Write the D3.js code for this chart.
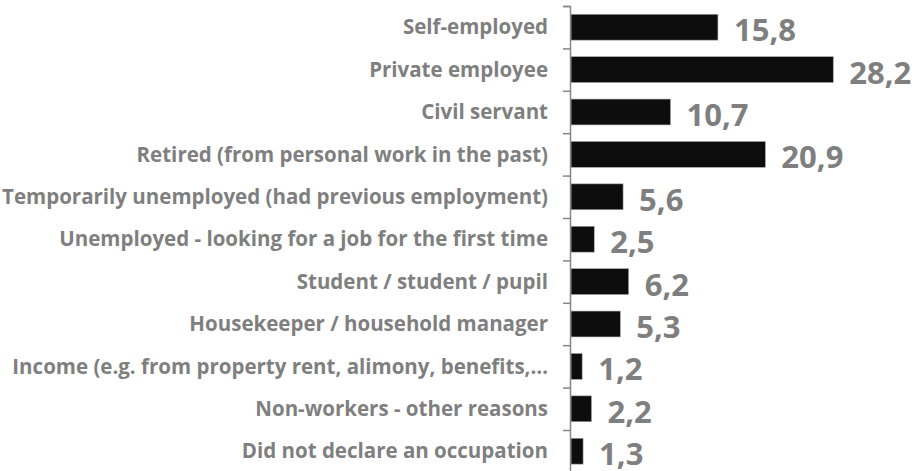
<!DOCTYPE html>
<html>
<head>
<meta charset="utf-8">
<script src="https://cdn.jsdelivr.net/npm/d3@7"></script>
<style>
  body { margin: 0; background: #fff; }
  svg { display: block; }
</style>
</head>
<body>
<div id="chart"></div>
<script>
// categories and shares (%)
var categories = [
  "Self-employed",
  "Private employee",
  "Civil servant",
  "Retired (from personal work in the past)",
  "Temporarily unemployed (had previous employment)",
  "Unemployed - looking for a job for the first time",
  "Student / student / pupil",
  "Housekeeper / household manager",
  "Income (e.g. from property rent, alimony, benefits,\u2026",
  "Non-workers - other reasons",
  "Did not declare an occupation"
];
var values = [15.8, 28.2, 10.7, 20.9, 5.6, 2.5, 6.2, 5.3, 1.2, 2.2, 1.3];
var valueLabels = ["15,8", "28,2", "10,7", "20,9", "5,6", "2,5", "6,2", "5,3", "1,2", "2,2", "1,3"];

var width = 917, height = 471;
var axisX = 570, plotTop = 6, step = 42.4;

var svg = d3.select("#chart").append("svg")
    .attr("width", width)
    .attr("height", height);

var y = d3.scaleBand()
    .domain(categories)
    .range([plotTop, plotTop + step * categories.length])
    .paddingInner(0.39)
    .paddingOuter(0.195);

var x = d3.scaleLinear()
    .domain([0, 30])
    .range([axisX + 1, axisX + 1 + 279]);

// bars
svg.selectAll("rect.bar")
    .data(values)
    .enter()
    .append("rect")
    .attr("class", "bar")
    .attr("x", x(0))
    .attr("y", (d, i) => y(categories[i]))
    .attr("width", d => x(d) - x(0))
    .attr("height", y.bandwidth())
    .style("fill", "#0d0d0d")
    .attr("stroke", "#a6a6a6")
    .style("stroke-width", 0.6);

// axis with ticks between categories
var yTicks = d3.scaleLinear()
    .domain([0, categories.length])
    .range([plotTop, plotTop + step * categories.length]);

var axis = svg.append("g")
    .attr("transform", "translate(" + axisX + ",0)")
    .call(d3.axisLeft(yTicks).ticks(categories.length).tickFormat("").tickSizeOuter(0).tickSize(7));
axis.selectAll("path, line").attr("stroke", "#868686").style("stroke-width", 1.5);

// category labels
svg.selectAll("text.cat")
    .data(categories)
    .enter()
    .append("text")
    .attr("class", "cat")
    .attr("x", axisX - 22)
    .attr("y", d => y(d) + y.bandwidth() / 2)
    .attr("dy", "0.35em")
    .attr("text-anchor", "end")
    .style("font-family", "'Open Sans', sans-serif")
    .style("font-weight", "bold")
    .style("font-size", "20.5px")
    .style("fill", "#7f7f7f")
    .text(d => d);

// value labels (kept inside the right edge like the original)
svg.selectAll("text.val")
    .data(values)
    .enter()
    .append("text")
    .attr("class", "val")
    .attr("y", (d, i) => y(categories[i]) + y.bandwidth() / 2 + 14)
    .style("font-family", "'Open Sans', sans-serif")
    .style("font-weight", "bold")
    .style("font-size", "31px")
    .style("fill", "#7f7f7f")
    .text((d, i) => valueLabels[i])
    .attr("x", function(d) {
        var w = this.getComputedTextLength();
        return Math.min(x(d) + 16, width - 3 - w);
    });
</script>
</body>
</html>
